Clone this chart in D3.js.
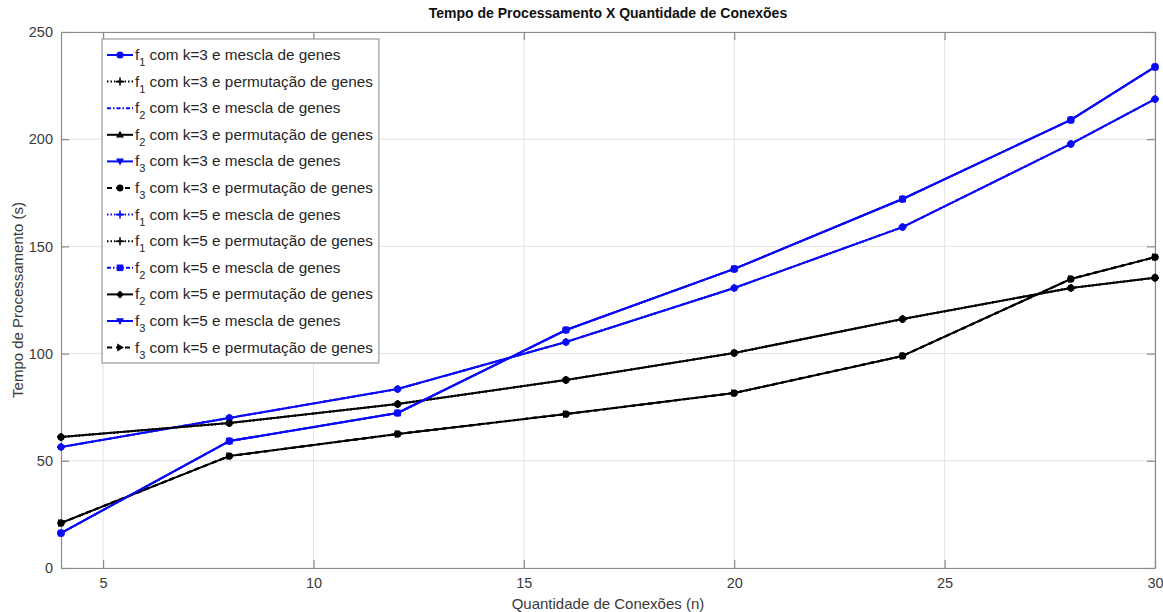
<!DOCTYPE html>
<html>
<head>
<meta charset="utf-8">
<script src="https://cdn.jsdelivr.net/npm/d3@7"></script>
<style>
  html, body { margin: 0; padding: 0; background: #fff; }
  svg { display: block; font-family: "Liberation Sans", Arial, Helvetica, sans-serif; }
</style>
</head>
<body>
<svg id="chart" width="1163" height="612"></svg>
<script>
// Quantidade de conexões (n)
const conexoes = [4, 8, 12, 16, 20, 24, 28, 30];

// Tempo de processamento (s) por configuração
const f1k3Mescla     = [56.4, 70.0, 83.5, 105.4, 130.6, 159.0, 197.8, 218.7];
const f1k3Permutacao = [61.1, 67.6, 76.5, 87.7, 100.3, 116.1, 130.6, 135.4];
const f2k3Mescla     = [56.4, 70.0, 83.5, 105.4, 130.6, 159.0, 197.8, 218.7];
const f2k3Permutacao = [61.1, 67.6, 76.5, 87.7, 100.3, 116.1, 130.6, 135.4];
const f3k3Mescla     = [16.3, 59.2, 72.3, 111.0, 139.5, 172.1, 209.0, 233.7];
const f3k3Permutacao = [21.0, 52.2, 62.5, 71.8, 81.6, 98.9, 134.8, 145.0];
const f1k5Mescla     = [56.4, 70.0, 83.5, 105.4, 130.6, 159.0, 197.8, 218.7];
const f1k5Permutacao = [61.1, 67.6, 76.5, 87.7, 100.3, 116.1, 130.6, 135.4];
const f2k5Mescla     = [16.3, 59.2, 72.3, 111.0, 139.5, 172.1, 209.0, 233.7];
const f2k5Permutacao = [21.0, 52.2, 62.5, 71.8, 81.6, 98.9, 134.8, 145.0];
const f3k5Mescla     = [16.3, 59.2, 72.3, 111.0, 139.5, 172.1, 209.0, 233.7];
const f3k5Permutacao = [21.0, 52.2, 62.5, 71.8, 81.6, 98.9, 134.8, 145.0];

const xTicks = [5, 10, 15, 20, 25, 30];
const yTicks = [0, 50, 100, 150, 200, 250];

const titulo = "Tempo de Processamento X Quantidade de Conexões";
const rotuloX = "Quantidade de Conexões (n)";
const rotuloY = "Tempo de Processamento (s)";

const AZUL = "#0a0af5", PRETO = "#000000";

// f-index, k, method text, values, color, dash, marker
const series = [
  { f: 1, k: 3, m: "mescla de genes",     v: f1k3Mescla,     c: AZUL,  dash: null,        mk: "circle" },
  { f: 1, k: 3, m: "permutação de genes", v: f1k3Permutacao, c: PRETO, dash: "1.5,2",     mk: "plus" },
  { f: 2, k: 3, m: "mescla de genes",     v: f2k3Mescla,     c: AZUL,  dash: "4,2,1.5,2", mk: "none" },
  { f: 2, k: 3, m: "permutação de genes", v: f2k3Permutacao, c: PRETO, dash: null,        mk: "triUp" },
  { f: 3, k: 3, m: "mescla de genes",     v: f3k3Mescla,     c: AZUL,  dash: null,        mk: "triDown" },
  { f: 3, k: 3, m: "permutação de genes", v: f3k3Permutacao, c: PRETO, dash: "5,4",       mk: "dot" },
  { f: 1, k: 5, m: "mescla de genes",     v: f1k5Mescla,     c: AZUL,  dash: "1.5,2",     mk: "plus" },
  { f: 1, k: 5, m: "permutação de genes", v: f1k5Permutacao, c: PRETO, dash: "1.5,2",     mk: "plus" },
  { f: 2, k: 5, m: "mescla de genes",     v: f2k5Mescla,     c: AZUL,  dash: "4,2,1.5,2", mk: "square" },
  { f: 2, k: 5, m: "permutação de genes", v: f2k5Permutacao, c: PRETO, dash: null,        mk: "diamond" },
  { f: 3, k: 5, m: "mescla de genes",     v: f3k5Mescla,     c: AZUL,  dash: null,        mk: "triDown" },
  { f: 3, k: 5, m: "permutação de genes", v: f3k5Permutacao, c: PRETO, dash: "5,4",       mk: "triRight" }
];

const svg = d3.select("#chart");
const margin = { left: 61, right: 8, top: 32, bottom: 44 };
const W = 1163, H = 612;
const iw = W - margin.left - margin.right;
const ih = H - margin.top - margin.bottom;

const x = d3.scaleLinear().domain([4, 30]).range([0, iw]);
const y = d3.scaleLinear().domain([0, 250]).range([ih, 0]);

const g = svg.append("g").attr("transform", `translate(${margin.left},${margin.top})`);

// grid
g.append("g").attr("class", "grid")
  .selectAll("line.gx").data(xTicks).join("line")
  .attr("x1", d => x(d)).attr("x2", d => x(d)).attr("y1", 0).attr("y2", ih)
  .attr("stroke", "#e3e3e3").attr("stroke-width", 1);
g.append("g").attr("class", "grid")
  .selectAll("line.gy").data(yTicks).join("line")
  .attr("x1", 0).attr("x2", iw).attr("y1", d => y(d)).attr("y2", d => y(d))
  .attr("stroke", "#e3e3e3").attr("stroke-width", 1);

const axisColor = "#8a8a8a", textColor = "#3a3a3a";
function styleAxis(sel) {
  sel.selectAll(".domain").attr("stroke", axisColor).attr("stroke-width", 1.2);
  sel.selectAll(".tick line").attr("stroke", axisColor).attr("stroke-width", 1.2);
  sel.selectAll(".tick text").attr("fill", textColor).style("font-size", "14.5px");
}

g.append("g").attr("transform", `translate(0,${ih})`)
  .call(d3.axisBottom(x).tickValues(xTicks).tickSizeInner(-8).tickSizeOuter(0).tickPadding(10))
  .call(styleAxis);
g.append("g")
  .call(d3.axisLeft(y).tickValues(yTicks).tickSizeInner(-8).tickSizeOuter(0).tickPadding(8))
  .call(styleAxis);
g.append("g")
  .call(d3.axisTop(x).tickValues(xTicks).tickSizeInner(-8).tickSizeOuter(0).tickFormat(""))
  .call(styleAxis);
g.append("g").attr("transform", `translate(${iw},0)`)
  .call(d3.axisRight(y).tickValues(yTicks).tickSizeInner(-8).tickSizeOuter(0).tickFormat(""))
  .call(styleAxis);

// marker drawing
function drawMarker(sel, type, color) {
  const s = 4;
  if (type === "none") return;
  if (type === "circle") sel.append("circle").attr("r", 3.6).attr("fill", color);
  else if (type === "dot") sel.append("circle").attr("r", 3.4).attr("fill", color);
  else if (type === "plus") sel.append("path").attr("d", `M${-s},0H${s}M0,${-s}V${s}`)
    .attr("stroke", color).attr("stroke-width", 1.6).attr("fill", "none");
  else if (type === "triUp") sel.append("path").attr("d", `M0,${-s}L${s},${s * 0.7}L${-s},${s * 0.7}Z`).attr("fill", color);
  else if (type === "triDown") sel.append("path").attr("d", `M0,${s}L${s},${-s * 0.7}L${-s},${-s * 0.7}Z`).attr("fill", color);
  else if (type === "triRight") sel.append("path").attr("d", `M${s},0L${-s * 0.7},${s}L${-s * 0.7},${-s}Z`).attr("fill", color);
  else if (type === "square") sel.append("rect").attr("x", -3.3).attr("y", -3.3).attr("width", 6.6).attr("height", 6.6).attr("fill", color);
  else if (type === "diamond") sel.append("path").attr("d", `M0,${-s}L${s},0L0,${s}L${-s},0Z`).attr("fill", color);
}

const line = d3.line().x((d, i) => x(conexoes[i])).y(d => y(d));

// lines: patterned ones first, solid ones on top
const order = series.map((s, i) => i).sort((a, b) => (series[a].dash ? 0 : 1) - (series[b].dash ? 0 : 1));
order.forEach(i => {
  const s = series[i];
  const sg = g.append("g");
  sg.append("path").datum(s.v).attr("d", line)
    .attr("fill", "none").attr("stroke", s.c).attr("stroke-width", 2)
    .attr("stroke-dasharray", s.dash).attr("stroke-linejoin", "round");
  s.v.forEach((v, j) => {
    const m = sg.append("g").attr("transform", `translate(${x(conexoes[j])},${y(v)})`);
    drawMarker(m, s.mk === "none" ? "none" : (s.dash ? s.mk : "circle"), s.c);
  });
});

// legend
const lg = svg.append("g");
const lx = 102, ly = 39, rowH = 26.6;
const box = lg.append("rect").attr("x", lx).attr("y", ly).attr("height", 324)
  .attr("fill", "#fff").attr("stroke", "#9a9a9a").attr("stroke-width", 1.2);
let maxW = 0;
series.forEach((s, i) => {
  const cy = ly + 16 + i * rowH;
  const row = lg.append("g");
  row.append("line").attr("x1", lx + 5).attr("x2", lx + 31).attr("y1", cy).attr("y2", cy)
    .attr("stroke", s.c).attr("stroke-width", 2).attr("stroke-dasharray", s.dash);
  const m = row.append("g").attr("transform", `translate(${lx + 18},${cy})`);
  drawMarker(m, s.mk, s.c);
  const t = row.append("text").attr("x", lx + 33).attr("y", cy + 5)
    .attr("fill", "#262626").style("font-size", "15.3px");
  t.append("tspan").text("f");
  t.append("tspan").attr("dy", 6).style("font-size", "11px").text(String(s.f));
  t.append("tspan").attr("dy", -6).text(` com k=${s.k} e ${s.m}`);
  maxW = Math.max(maxW, t.node().getComputedTextLength());
});
box.attr("width", 33 + maxW + 6);

// title and axis labels
svg.append("text").attr("x", margin.left + iw / 2).attr("y", 18).attr("text-anchor", "middle")
  .style("font-size", "14px").style("font-weight", "bold").attr("fill", "#111").text(titulo);
svg.append("text").attr("x", margin.left + iw / 2).attr("y", 609).attr("text-anchor", "middle")
  .style("font-size", "15px").attr("fill", textColor).text(rotuloX);
svg.append("text").attr("transform", `translate(23,${margin.top + ih / 2}) rotate(-90)`)
  .attr("text-anchor", "middle").style("font-size", "15px").attr("fill", textColor).text(rotuloY);
</script>
</body>
</html>
